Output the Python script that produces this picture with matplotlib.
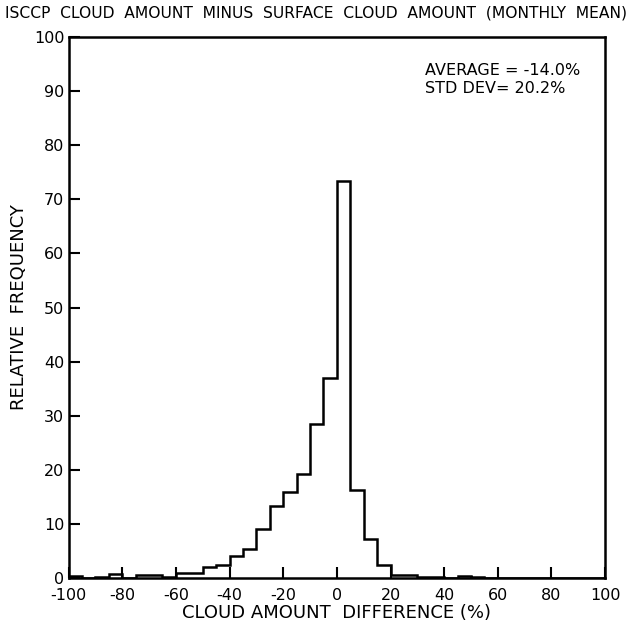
import matplotlib
matplotlib.use("Agg")
import matplotlib.pyplot as plt
import numpy as np

# bin edges every 5% from -100 to 100
edges = np.arange(-100, 101, 5)
freq = [0.4, 0.1, 0.3, 0.7, 0.1, 0.6, 0.6, 0.3,      # -100 .. -60
        0.9, 1.0, 2.1, 2.5, 4.0, 5.4, 9.1, 13.3,     # -60 .. -20
        16.0, 19.2, 28.5, 37.0,                      # -20 .. 0
        73.3, 16.2, 7.3, 2.4, 0.6, 0.6, 0.3, 0.2,    # 0 .. 40
        0.1, 0.4, 0.2, 0.1, 0.1, 0.0, 0.0, 0.0,      # 40 .. 80
        0.0, 0.0, 0.0, 0.0]                          # 80 .. 100

xticks = [-100, -80, -60, -40, -20, 0, 20, 40, 60, 80, 100]
yticks = [0, 10, 20, 30, 40, 50, 60, 70, 80, 90, 100]

plt.rcParams['font.family'] = ['DejaVu Sans']
plt.rcParams['axes.unicode_minus'] = False

fig = plt.figure(figsize=(6.35, 6.25), dpi=100)
ax = fig.add_axes([0.108, 0.075, 0.845, 0.866])

ax.stairs(freq, edges, color="black", linewidth=1.8)

ax.set_xlim(-100, 100)
ax.set_ylim(0, 100)
ax.set_xticks(xticks)
ax.set_yticks(yticks)
ax.tick_params(direction="in", length=8, width=1.5, labelsize=11.5,
               top=False, right=False)
ax.tick_params(axis="x", pad=7)
ax.tick_params(axis="y", pad=3)
for s in ax.spines.values():
    s.set_linewidth(1.8)

ax.set_xlabel("CLOUD AMOUNT  DIFFERENCE (%)", fontsize=13, labelpad=1)
ax.set_ylabel("RELATIVE  FREQUENCY", fontsize=13, labelpad=4)

fig.text(0.008, 0.979, "ISCCP  CLOUD  AMOUNT  MINUS  SURFACE  CLOUD  AMOUNT  (MONTHLY  MEAN)",
         fontsize=11.2, ha="left", va="center")

ax.text(0.665, 0.952, "AVERAGE = -14.0%\nSTD DEV= 20.2%", transform=ax.transAxes,
        fontsize=11.5, ha="left", va="top", linespacing=1.25)

fig.savefig("out.png", dpi=100)
